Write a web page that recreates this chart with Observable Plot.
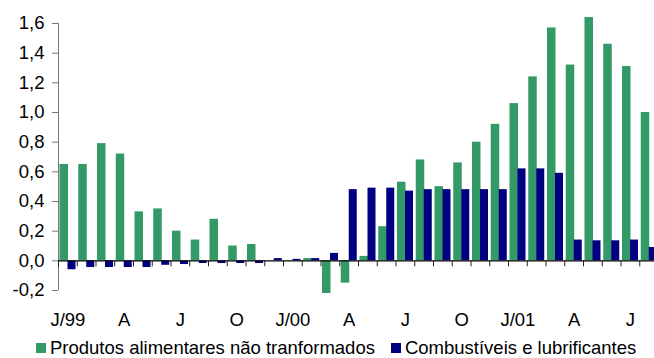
<!DOCTYPE html>
<html>
<head>
<meta charset="utf-8">
<script src="https://cdn.jsdelivr.net/npm/d3@7"></script>
<script src="https://cdn.jsdelivr.net/npm/@observablehq/plot@0.6"></script>
<style>
  html, body { margin: 0; padding: 0; background: #fff; overflow: hidden; width: 654px; height: 358px; }
  #chart { position: relative; width: 654px; height: 358px; font-family: "Liberation Sans", Arial, sans-serif; }
  #legend { position: absolute; left: 36px; top: 338px; display: flex; align-items: center; font-size: 18.5px; color: #000; white-space: nowrap; line-height: 20px; }
  #legend .item { display: flex; align-items: center; }
  #legend .sw { display: inline-block; width: 10px; height: 10px; margin-right: 4px; }
  #chart svg [aria-label="y-axis tick"] { stroke: #777; }
</style>
</head>
<body>
<div id="chart"><div id="legend"></div></div>
<script>
// Monthly contributions, Jan 1999 – Aug 2001
const months = [
  "1999-01","1999-02","1999-03","1999-04","1999-05","1999-06","1999-07","1999-08","1999-09","1999-10","1999-11","1999-12",
  "2000-01","2000-02","2000-03","2000-04","2000-05","2000-06","2000-07","2000-08","2000-09","2000-10","2000-11","2000-12",
  "2001-01","2001-02","2001-03","2001-04","2001-05","2001-06","2001-07","2001-08"
];
const monthLabels = [
  "J/99","","","A","","","J","","","O","","",
  "J/00","","","A","","","J","","","O","","",
  "J/01","","","A","","","J",""
];
const food = [
  0.65, 0.65, 0.79, 0.72, 0.33, 0.35, 0.20, 0.14, 0.28, 0.10, 0.11, 0.00,
  0.00, 0.015, -0.22, -0.15, 0.03, 0.23, 0.53, 0.68, 0.50, 0.66, 0.80, 0.92,
  1.06, 1.24, 1.57, 1.32, 1.64, 1.46, 1.31, 1.00
];
const fuel = [
  -0.06, -0.045, -0.045, -0.045, -0.045, -0.03, -0.025, -0.018, -0.018, -0.018, -0.018, 0.015,
  0.01, 0.015, 0.05, 0.48, 0.49, 0.49, 0.47, 0.48, 0.48, 0.48, 0.48, 0.48,
  0.62, 0.62, 0.59, 0.14, 0.135, 0.135, 0.14, 0.09
];
const seriesNames = ["Produtos alimentares não tranformados", "Combustíveis e lubrificantes"];
const seriesColors = ["#339966", "#000080"];
const yTicks = [-0.2, 0, 0.2, 0.4, 0.6, 0.8, 1.0, 1.2, 1.4, 1.6];

const foodRows = months.map((m, i) => ({month: m, value: food[i]}));
const fuelRows = months.map((m, i) => ({month: m, value: fuel[i]}));
const labelOf = new Map(months.map((m, i) => [m, monthLabels[i]]));

const width = 658, marginLeft = 58, marginRight = 0;
const step = (width - marginLeft - marginRight) / months.length;
const fmt = d => d.toFixed(1).replace(".", ",");

const chart = Plot.plot({
  width,
  height: 336,
  marginTop: 23,
  marginBottom: 46,
  marginLeft,
  marginRight,
  style: {maxWidth: "none", fontFamily: "Liberation Sans, Arial, sans-serif", fontSize: "18.5px", color: "#000", background: "#fff", overflow: "visible"},
  x: {type: "band", domain: months, padding: 0, round: false, tickSize: 0, tickPadding: 22, tickFormat: d => labelOf.get(d), label: null},
  y: {domain: [-0.2, 1.6], ticks: yTicks, tickSize: 6, tickPadding: 8, tickFormat: fmt, label: null},
  marks: [
    Plot.barY(foodRows, {x: "month", y: "value", fill: seriesColors[0], insetLeft: 1.5, insetRight: 8.75}),
    Plot.barY(fuelRows, {x: "month", y: "value", fill: seriesColors[1], insetLeft: 9.5, insetRight: 1.25}),
    // vertical value axis line at the left edge of the first month
    Plot.ruleX([months[0]], {x: d => d, dx: -step / 2, y1: -0.2, y2: 1.6, stroke: "#777", strokeWidth: 1}),
    // zero line and month separators below it
    Plot.ruleY([0], {stroke: "#000", strokeWidth: 1.2}),
    Plot.ruleX(months, {x: d => d, dx: -step / 2, y1: 0, y2: 0, insetBottom: -6, stroke: "#222"}),
    Plot.ruleX([months[months.length - 1]], {x: d => d, dx: step / 2, y1: 0, y2: 0, insetBottom: -6, stroke: "#222"})
  ]
});
const host = document.getElementById("chart");
host.insertBefore(chart, host.firstChild);

const legend = document.getElementById("legend");
seriesNames.forEach((name, i) => {
  const item = document.createElement("span");
  item.className = "item";
  if (i > 0) item.style.marginLeft = "16px";
  const sw = document.createElement("span");
  sw.className = "sw";
  sw.style.background = seriesColors[i];
  item.appendChild(sw);
  item.appendChild(document.createTextNode(name));
  legend.appendChild(item);
});
</script>
</body>
</html>
